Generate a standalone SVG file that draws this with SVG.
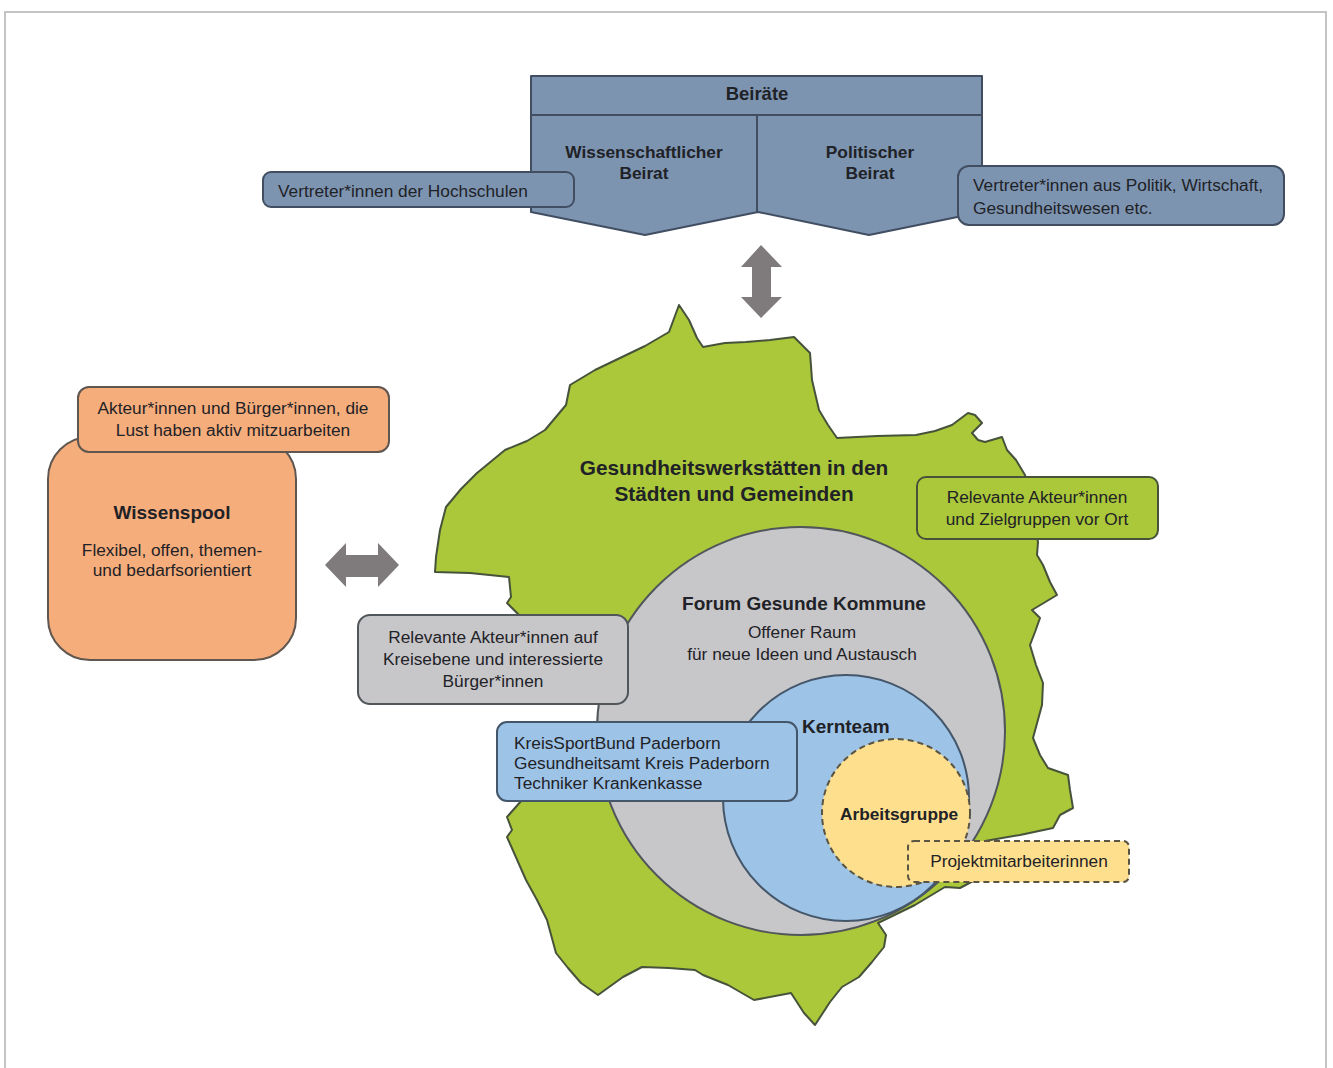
<svg xmlns="http://www.w3.org/2000/svg" width="1333" height="1068" viewBox="0 0 1333 1068">
<style>
text{font-family:"Liberation Sans",Arial,sans-serif;fill:#1f2226;font-size:17.3px}
.b{font-weight:bold}
.m{text-anchor:middle}
.h{font-size:19px}
.blue{fill:#7d94b1;stroke:#414e62;stroke-width:2;stroke-linejoin:round}
.orange{fill:#f5ad7c;stroke:#5f5650;stroke-width:2}
.gray{fill:#c7c7ca;stroke:#50565a;stroke-width:2}
.sky{fill:#9dc3e6;stroke:#44566a;stroke-width:2}
.green{fill:#abc83a;stroke:#46533a;stroke-width:2;stroke-linejoin:round}
.yellow{fill:#fedf8d;stroke:#5a5442;stroke-width:2;stroke-dasharray:6 4}
.arrow{fill:#7f7a7c}
</style>
<rect x="5" y="12" width="1321" height="1070" fill="#fff" stroke="#c4c4c4" stroke-width="2"/>
<g id="beiraete">
<path class="blue" d="M531 76H982V212L869 235L758 212L645 235L531 212Z"/>
<path class="blue" fill="none" d="M531 115H982M757 115V212"/>
<text class="b m" x="757" y="100" style="font-size:18.5px">Beiräte</text>
<text class="b m" x="644" y="158">Wissenschaftlicher</text>
<text class="b m" x="644" y="179">Beirat</text>
<text class="b m" x="870" y="158">Politischer</text>
<text class="b m" x="870" y="179">Beirat</text>
</g>
<g id="vertreter-hochschulen">
<rect class="blue" x="263" y="172" width="311" height="35" rx="8"/>
<text x="278" y="197">Vertreter*innen der Hochschulen</text>
</g>
<g id="vertreter-politik">
<rect class="blue" x="958" y="166" width="326" height="59" rx="11"/>
<text x="973" y="191">Vertreter*innen aus Politik, Wirtschaft,</text>
<text x="973" y="214">Gesundheitswesen etc.</text>
</g>
<g id="connectors">
<path class="arrow" d="M761 245L782 267H771V297H782L761 318L741 297H752V267H741Z"/>
<path class="arrow" d="M325 565L346 543V555H378V543L399 565L378 587V577H346V587Z"/>
</g>
<g id="wissenspool">
<rect class="orange" x="48" y="437" width="248" height="223" rx="42"/>
<text class="b m h" x="172" y="519">Wissenspool</text>
<text class="m" x="172" y="556">Flexibel, offen, themen-</text>
<text class="m" x="172" y="576">und bedarfsorientiert</text>
</g>
<g id="akteure-buerger">
<rect class="orange" x="78" y="387" width="311" height="65" rx="11"/>
<text class="m" x="233" y="414">Akteur*innen und Bürger*innen, die</text>
<text class="m" x="233" y="436">Lust haben aktiv mitzuarbeiten</text>
</g>
<g id="gesundheitswerkstaetten">
<path class="green" d="M679 305L689 320L697 338L703 347L725 343L746 342L770 340L794 337L803 346L810 353L811 366L812 380L819 410L828 425L837 438L877 436L916 435L935 431L952 425L968 413L975 415L982 423L972 433L978 440L985 442L1002 437L1007 450L1016 460L1025 475L1030 500L1038 542L1037 555L1043 565L1050 582L1057 595L1032 610L1040 618L1035 632L1030 645L1036 665L1043 683L1042 705L1033 738L1040 755L1048 768L1068 775L1070 790L1073 808L1060 815L1053 828L1020 835L985 841L975 880L960 888L945 887L915 905L878 923L886 935L884 947L872 962L859 977L842 987L830 1002L815 1025L804 1013L791 993L754 1000L728 985L703 975L695 970L669 968L642 967L623 977L598 995L581 983L568 968L556 953L547 920L537 900L526 880L507 837L512 830L507 817L522 800L610 760L610 690L519 615L507 603L511 597L509 577L470 573L435 572L436 557L440 530L446 507L461 489L477 473L505 450L527 441L545 430L566 405L570 385L595 370L620 358L645 346L669 332Z"/>
<text class="b m" x="734" y="475" style="font-size:20.8px">Gesundheitswerkstätten in den</text>
<text class="b m" x="734" y="501" style="font-size:20.8px">Städten und Gemeinden</text>
</g>
<g id="forum">
<circle class="gray" cx="801" cy="731" r="204"/>
<text class="b m h" x="804" y="610">Forum Gesunde Kommune</text>
<text class="m" x="802" y="638">Offener Raum</text>
<text class="m" x="802" y="660">für neue Ideen und Austausch</text>
</g>
<g id="kernteam">
<circle class="sky" cx="846" cy="798" r="123"/>
<text class="b h" x="802" y="733">Kernteam</text>
</g>
<g id="arbeitsgruppe">
<circle class="yellow" cx="896" cy="813" r="74"/>
<text class="b" x="840" y="820">Arbeitsgruppe</text>
</g>
<g id="relevante-vor-ort">
<rect class="green" x="917" y="477" width="241" height="62" rx="9"/>
<text class="m" x="1037" y="503">Relevante Akteur*innen</text>
<text class="m" x="1037" y="525">und Zielgruppen vor Ort</text>
</g>
<g id="relevante-kreisebene">
<rect class="gray" x="358" y="615" width="270" height="89" rx="12"/>
<text class="m" x="493" y="643">Relevante Akteur*innen auf</text>
<text class="m" x="493" y="665">Kreisebene und interessierte</text>
<text class="m" x="493" y="687">Bürger*innen</text>
</g>
<g id="kernteam-mitglieder">
<rect class="sky" x="497" y="722" width="300" height="79" rx="10"/>
<text x="514" y="749">KreisSportBund Paderborn</text>
<text x="514" y="769">Gesundheitsamt Kreis Paderborn</text>
<text x="514" y="789">Techniker Krankenkasse</text>
</g>
<g id="projektmitarbeiterinnen">
<rect class="yellow" x="908" y="841" width="221" height="41" rx="6"/>
<text class="m" x="1019" y="867">Projektmitarbeiterinnen</text>
</g>
</svg>
